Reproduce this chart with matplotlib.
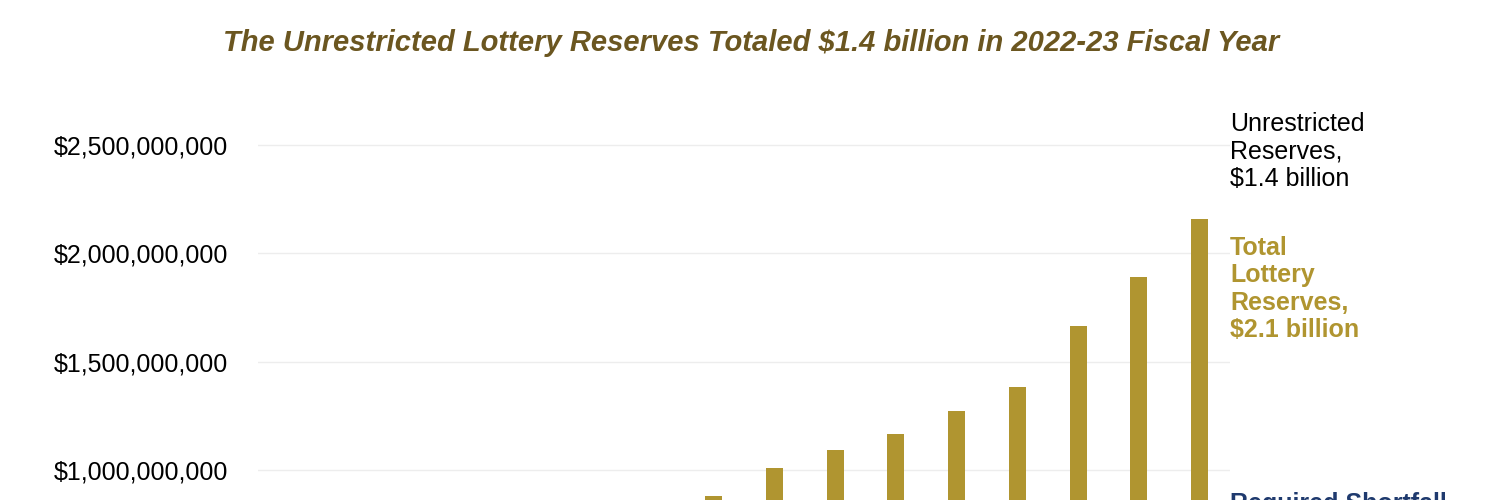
import numpy as np
import matplotlib
matplotlib.use('Agg')
import matplotlib.pyplot as plt
from matplotlib.ticker import FuncFormatter

# ---------------------------------------------------------------------------
# Data (read off the visible part of the chart)
# ---------------------------------------------------------------------------
fiscal_years = ['2014-15', '2015-16', '2016-17', '2017-18', '2018-19',
                '2019-20', '2020-21', '2021-22', '2022-23']
total_reserves = [880e6, 1009e6, 1092e6, 1166e6, 1272e6,
                  1383e6, 1665e6, 1891e6, 2159e6]
y_ticks = [1.0e9, 1.5e9, 2.0e9, 2.5e9]

GOLD = '#B09530'
TITLE_COLOR = '#6B5620'
NAVY = '#1F3A6E'

plt.rcParams['font.family'] = ['Liberation Sans', 'DejaVu Sans']

fig = plt.figure(figsize=(15, 5), dpi=100)
ax = fig.add_axes([258 / 1500, 0.0, (1230 - 258) / 1500, 0.753])

x = np.arange(len(fiscal_years))
ax.bar(x, total_reserves, width=0.28, color=GOLD, zorder=3)

ax.set_xlim(-7.5, 8.5)
ax.set_ylim(861.5e6, 2.6e9)
ax.set_yticks(y_ticks)
ax.yaxis.set_major_formatter(FuncFormatter(lambda v, p: f'${v:,.0f}'))
ax.set_xticks(x)
ax.set_xticklabels(fiscal_years)
ax.tick_params(axis='x', labelbottom=False, length=0)
ax.tick_params(axis='y', length=0, pad=21.5, labelsize=18)
ax.grid(axis='y', color='#EDEDED', linewidth=1, zorder=0)
for s in ax.spines.values():
    s.set_visible(False)

fig.text(0.501, 1 - 51 / 500,
         'The Unrestricted Lottery Reserves Totaled $1.4 billion in 2022-23 Fiscal Year',
         ha='center', va='baseline', fontsize=21, fontweight='bold',
         fontstyle='italic', color=TITLE_COLOR)

# labels to the right of the last bar
fig.text(1230 / 1500, 1 - 186 / 500, 'Unrestricted\nReserves,\n$1.4 billion',
         ha='left', va='baseline', fontsize=18, color='black', linespacing=1.18)
fig.text(1230 / 1500, 1 - 337 / 500, 'Total\nLottery\nReserves,\n$2.1 billion',
         ha='left', va='baseline', fontsize=18, fontweight='bold', color=GOLD,
         linespacing=1.18)
fig.text(1230 / 1500, 1 - 511 / 500, 'Required Shortfall',
         ha='left', va='baseline', fontsize=18, fontweight='bold', color=NAVY)

fig.savefig('out.png', dpi=100)
